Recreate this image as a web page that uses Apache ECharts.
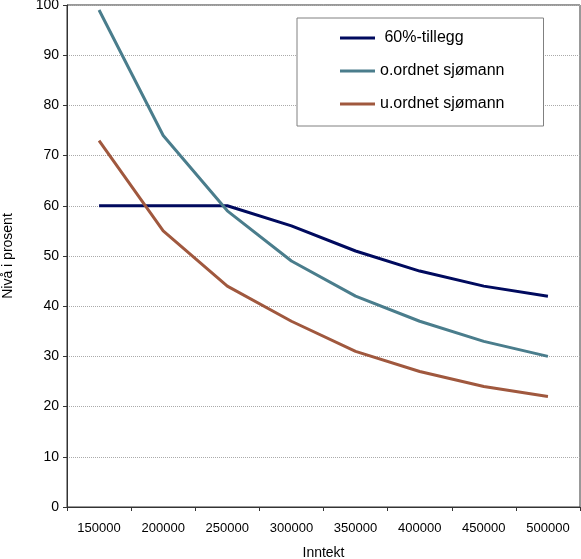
<!DOCTYPE html>
<html>
<head>
<meta charset="utf-8">
<script src="https://cdn.jsdelivr.net/npm/echarts@6/dist/echarts.min.js"></script>
<style>
  html, body { margin: 0; padding: 0; background: #fff; }
  #echarts { width: 581px; height: 559px; }
</style>
</head>
<body>
<div id="echarts"></div>
<script>
// data
const categories = ['150000', '200000', '250000', '300000', '350000', '400000', '450000', '500000'];
const tillegg60 = [60, 60, 60, 56, 51, 47, 44, 42];
const oOrdnet = [99, 74, 59, 49, 42, 37, 33, 30];
const uOrdnet = [73, 55, 44, 37, 31, 27, 24, 22];
const yTicks = [0, 10, 20, 30, 40, 50, 60, 70, 80, 90, 100];

const font = 'Liberation Sans, Arial, sans-serif';

let createEchart = function (id, option) {
    let chart = echarts.init(document.getElementById(id), null, { renderer: 'canvas' });
    chart.setOption(option);
    return chart;
};

let lineSeries = function (name, data, color) {
    return {
        name: name,
        type: 'line',
        data: data,
        symbol: 'none',
        smooth: false,
        lineStyle: { color: color, width: 3 },
        itemStyle: { color: color },
        animation: false
    };
};

let lineChart = function () {
    return {
        backgroundColor: '#fff',
        textStyle: { fontFamily: font },
        grid: {
            left: 67, right: 1, top: 5, bottom: 52,
            outerBoundsMode: 'none',
            containLabel: false,
            show: true, borderColor: '#333', borderWidth: 1
        },
        legend: {
            orient: 'vertical',
            left: 297, top: 18,
            padding: [12, 39, 14, 43],
            itemGap: 17,
            itemWidth: 35, itemHeight: 3,
            backgroundColor: '#fff',
            borderColor: '#808080', borderWidth: 1,
            icon: 'rect',
            textStyle: { fontSize: 16, color: '#000', fontFamily: font },
            data: ['60%-tillegg', 'o.ordnet sjømann', 'u.ordnet sjømann'],
            formatter: function (n) { return n === '60%-tillegg' ? ' ' + n : n; }
        },
        xAxis: {
            type: 'category',
            data: categories,
            boundaryGap: true,
            name: 'Inntekt',
            nameLocation: 'middle',
            nameGap: 39,
            nameTextStyle: { fontSize: 14, color: '#000', fontFamily: font },
            axisLine: { lineStyle: { color: '#333', width: 1 } },
            axisTick: { show: true, length: 4, inside: false, lineStyle: { color: '#333' } },
            axisLabel: { fontSize: 13, color: '#000', margin: 15, interval: 0, fontFamily: font },
            splitLine: { show: false }
        },
        yAxis: {
            type: 'value',
            min: yTicks[0], max: yTicks[yTicks.length - 1], interval: 10,
            name: 'Nivå i prosent',
            nameLocation: 'middle',
            nameGap: 52,
            nameTextStyle: { fontSize: 14, color: '#000', fontFamily: font },
            axisLine: { show: true, lineStyle: { color: '#333', width: 1 } },
            axisTick: { show: true, length: 4, lineStyle: { color: '#333' } },
            axisLabel: { fontSize: 14, color: '#000', margin: 8, fontFamily: font },
            splitLine: { show: true, lineStyle: { color: '#aaa', type: [1, 1], width: 1 } }
        },
        series: [
            lineSeries('60%-tillegg', tillegg60, '#000a5e'),
            lineSeries('o.ordnet sjømann', oOrdnet, '#4a7d8c'),
            lineSeries('u.ordnet sjømann', uOrdnet, '#a0583e')
        ]
    };
};

createEchart('echarts', lineChart());
</script>
</body>
</html>
